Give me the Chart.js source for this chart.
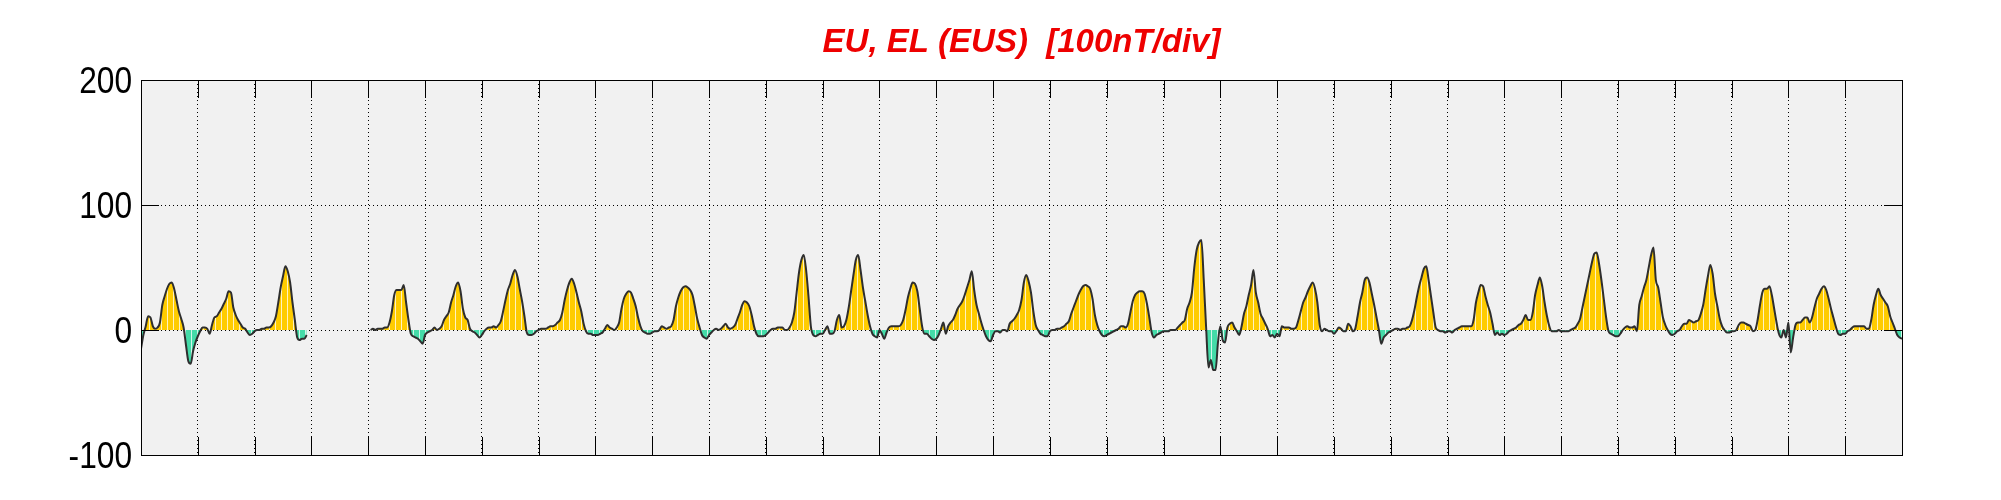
<!DOCTYPE html>
<html>
<head>
<meta charset="utf-8">
<script src="https://cdn.jsdelivr.net/npm/chart.js@4.4.1/dist/chart.umd.min.js"></script>
<style>
  html, body { margin: 0; padding: 0; background: #fff; }
</style>
</head>
<body>
<canvas id="eus" width="2001" height="500"></canvas>
<script>
// EU/EL hourly values (nT), one array per day, hour 0..23
const d01 = [-15,-4,3,11,10,3,1,2,6,20,27,33,37,38,33,24,15,9,2,-12,-25,-27,-17,-10];
const d02 = [-5,-1,2,2,1,-3,4,10,11,14,17,21,25,31,30,18,12,8,5,2,1,-2,-4,-3];
const d03 = [-1,0,0,1,1,2,2,3,6,11,22,34,43,51,47,38,22,8,-6,-8,-7,-7,-4,null];
const d04 = [null,null,null,null,null,null,null,null,null,null,null,null,null,null,null,null,null,null,null,null,null,null,null,null]; // no data
const d05 = [null,0,1,0,1,1,1,2,2,6,15,28,32,32,32,36,22,8,-3,-5,-6,-7,-9,-11];
const d06 = [-4,-2,-1,0,2,0,1,3,8,11,14,22,28,35,38,31,17,10,8,1,-1,-2,-4,-6];
const d07 = [-4,-1,1,2,2,3,2,4,7,15,24,32,37,44,48,43,33,23,11,-2,-4,-4,-3,-1];
const d08 = [0,1,1,1,2,3,3,4,6,8,14,24,32,38,41,37,30,22,15,5,-1,-3,-3,-4];
const d09 = [-4,-4,-3,-2,1,4,2,1,0,2,6,17,25,29,31,30,25,19,10,3,-1,-2,-3,-3];
const d10 = [-2,-1,-1,0,3,2,1,2,3,8,19,26,31,34,35,34,32,28,19,9,2,-4,-6,-7];
const d11 = [-4,-2,0,1,0,1,3,5,2,1,2,4,9,14,20,23,22,19,12,3,-3,-5,-5,-5];
const d12 = [-4,-2,0,1,1,2,2,2,0,0,2,6,14,30,46,56,60,48,27,3,-4,-5,-4,-3];
const d13 = [-3,0,3,-3,-3,-1,8,12,2,3,8,18,31,44,56,60,48,34,23,12,3,-3,-5,-6];
const d14 = [0,-3,-7,-2,2,3,3,3,3,4,8,16,26,33,38,37,31,17,3,-3,-3,-5,-7,-8];
const d15 = [-7,-4,1,6,-3,3,6,8,12,17,20,23,28,34,40,47,32,20,13,6,0,-5,-8,-9];
const d16 = [-4,-1,-1,-2,0,0,-1,5,7,9,12,16,24,38,44,39,30,15,4,0,-3,-4,-5,-5];
const d17 = [-1,0,0,1,1,2,3,5,7,13,18,23,28,32,35,36,35,33,25,12,4,-1,-4,-5];
const d18 = [-4,-3,-2,-1,0,1,3,3,2,5,14,23,28,30,31,31,29,21,10,-2,-6,-4,-3,-2];
const d19 = [-1,-1,-1,0,0,0,2,4,6,8,17,22,30,50,64,70,72,40,2,-30,-24,-32,-32,-10];
const d20 = [3,-8,-10,2,5,6,2,-1,-4,3,13,19,28,36,48,30,22,13,9,5,1,-5,-4,-6];
const d21 = [-3,-5,3,2,2,2,1,1,2,8,15,22,26,31,35,38,33,22,4,-1,1,0,-1,-1];
const d22 = [-3,-1,2,1,-1,-1,5,3,-1,1,11,22,30,40,42,38,29,20,10,0,-11,-6,-4,-2];
const d23 = [-1,0,1,1,0,1,1,2,3,8,16,26,35,42,49,51,40,27,14,2,0,-1,-1,-2];
const d24 = [-1,-1,-2,0,1,2,3,3,3,3,3,8,22,30,36,35,27,20,14,5,-4,-2,-4,-3];
const d25 = [-4,-3,-1,0,1,2,4,5,8,12,8,8,14,28,36,42,35,22,11,3,-1,-1,-1,0];
const d26 = [-1,-1,-1,-1,0,1,2,5,9,18,27,36,45,54,61,62,53,40,25,10,-1,-3,-4,-5];
const d27 = [-5,-3,0,2,3,2,2,3,-1,20,27,34,40,50,60,66,40,34,22,10,4,0,-3,-4];
const d28 = [-3,-1,0,3,5,5,8,7,6,7,8,13,20,32,43,52,45,29,19,9,3,0,-2,-2];
const d29 = [-1,-1,0,4,6,6,5,4,3,-1,0,8,20,30,33,33,35,28,17,6,-3,-6,0,-6];
const d30 = [6,-18,-6,4,6,6,8,10,10,6,10,18,25,29,33,35,32,25,17,10,3,-3,-4,-3];
const d31 = [-3,-1,0,2,3,3,3,3,3,1,1,8,20,28,33,28,25,22,19,11,6,1,-4,-6,-7]; // last value = end of month

const days = [d01,d02,d03,d04,d05,d06,d07,d08,d09,d10,d11,d12,d13,d14,d15,d16,
              d17,d18,d19,d20,d21,d22,d23,d24,d25,d26,d27,d28,d29,d30,d31];
const yTicks = [-100, 0, 100, 200];
const titleText = 'EU, EL (EUS)  [100nT/div]';

const points = [];
days.forEach((vals, d) => {
  vals.forEach((v, h) => points.push({ x: d * 24 + h, y: v }));
});

// striped fill like the original bar rendering
function stripes(color) {
  const c = document.createElement('canvas');
  c.width = 6; c.height = 1;
  const g = c.getContext('2d');
  g.fillStyle = color;
  g.fillRect(0, 0, 6, 1);
  g.fillStyle = 'rgba(255,255,255,0.75)';
  g.fillRect(5, 0, 1, 1);
  return g.createPattern(c, 'repeat');
}

const frame = {
  id: 'frame',
  beforeDraw(chart) {
    const { ctx, chartArea: a } = chart;
    ctx.save();
    ctx.fillStyle = '#f1f1f1';
    ctx.fillRect(a.left, a.top, a.width, a.height);
    ctx.restore();
  },
  afterDraw(chart) {
    const { ctx, chartArea: a, scales } = chart;
    const len = 18;
    ctx.save();
    ctx.strokeStyle = '#000';
    ctx.lineWidth = 1;
    ctx.beginPath();
    scales.x.ticks.forEach(t => {
      if (t.value <= 0 || t.value >= days.length * 24) return;
      const x = Math.round(scales.x.getPixelForValue(t.value)) + 0.5;
      ctx.moveTo(x, a.bottom); ctx.lineTo(x, a.bottom - len);
      ctx.moveTo(x, a.top); ctx.lineTo(x, a.top + len);
    });
    yTicks.slice(1, -1).forEach(v => {
      const y = Math.round(scales.y.getPixelForValue(v)) + 0.5;
      ctx.moveTo(a.left, y); ctx.lineTo(a.left + len, y);
      ctx.moveTo(a.right, y); ctx.lineTo(a.right - len, y);
    });
    ctx.stroke();
    ctx.strokeRect(Math.round(a.left) + 0.5, Math.round(a.top) + 0.5,
                   Math.round(a.width), Math.round(a.height));

    // y labels, slightly narrow like the original
    ctx.fillStyle = '#000';
    ctx.font = '36px "Liberation Sans"';
    ctx.textAlign = 'right';
    ctx.textBaseline = 'middle';
    yTicks.forEach(v => {
      const y = scales.y.getPixelForValue(v) + 3;
      ctx.save();
      ctx.translate(a.left - 9, y);
      ctx.scale(0.88, 1);
      ctx.fillText(String(v), 0, 0);
      ctx.restore();
    });

    // title
    ctx.fillStyle = '#ee0000';
    ctx.font = 'italic bold 33px "Liberation Sans"';
    ctx.textAlign = 'center';
    ctx.textBaseline = 'middle';
    ctx.fillText(titleText, (a.left + a.right) / 2, 43);
    ctx.restore();
  }
};

new Chart(document.getElementById('eus'), {
  type: 'line',
  data: {
    datasets: [{
      data: points,
      borderColor: '#2e2e2e',
      borderWidth: 2,
      pointRadius: 0,
      cubicInterpolationMode: 'monotone',
      spanGaps: false,
      fill: { target: 'origin', above: stripes('#ffcc00'), below: stripes('#44dba8') }
    }]
  },
  options: {
    responsive: false,
    animation: false,
    devicePixelRatio: 1,
    layout: { padding: { left: 0, right: 99, top: 80, bottom: 45 } },
    plugins: {
      legend: { display: false },
      title: { display: false },
      tooltip: { enabled: false }
    },
    scales: {
      x: {
        type: 'linear',
        min: 0,
        max: days.length * 24,
        afterFit: s => { s.height = 0; },
        ticks: { display: false, stepSize: 24, autoSkip: false },
        grid: { color: '#000', lineWidth: 1, drawTicks: false },
        border: { display: false, dash: [1, 3] }
      },
      y: {
        min: -100,
        max: 200,
        afterFit: s => { s.width = 141; },
        afterBuildTicks: s => { s.ticks = yTicks.map(v => ({ value: v })); },
        ticks: { display: false },
        grid: { color: '#000', lineWidth: 1, drawTicks: false },
        border: { display: false, dash: [1, 3] }
      }
    }
  },
  plugins: [frame]
});
</script>
</body>
</html>
